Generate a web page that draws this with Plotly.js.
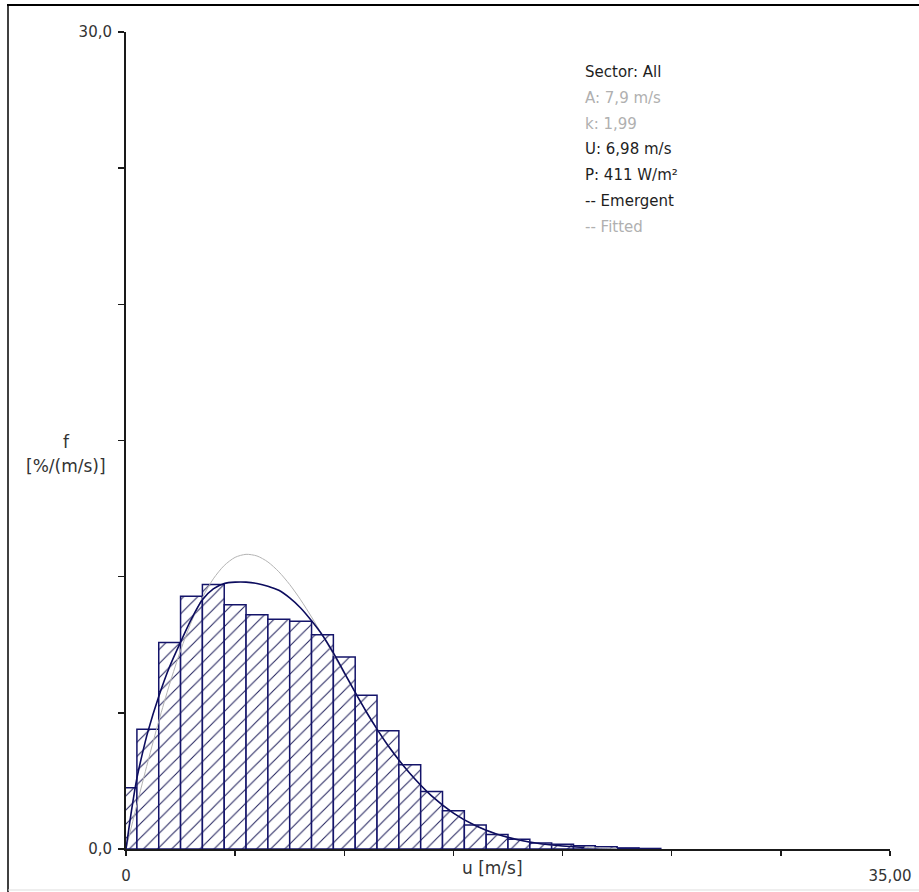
<!DOCTYPE html>
<html>
<head>
<meta charset="utf-8">
<script src="https://cdn.plot.ly/plotly-3.0.1.min.js"></script>
<style>
html,body{margin:0;padding:0;background:#ffffff;}
#chart{width:919px;height:892px;}
</style>
</head>
<body>
<div id="chart"></div>
<script>
// ---- data ----
const binCenters = [0,1,2,3,4,5,6,7,8,9,10,11,12,13,14,15,16,17,18,19,20,21,22,23,24];
const binValues  = [2.25,4.40,7.58,9.28,9.71,8.97,8.60,8.44,8.36,7.87,7.05,5.65,4.34,3.09,2.11,1.40,0.88,0.53,0.36,0.22,0.17,0.12,0.08,0.04,0.02];

const emergentU = [0,0.25,0.5,0.75,1,1.5,2,2.5,3,3.5,4,4.5,5,5.5,6,6.5,7,7.5,8,8.5,9,9.5,10,10.5,11,11.5,12,13,14,15,16,17,18,19,20,21];
const emergentF = [0,1.4,2.6,3.5,4.3,5.6,6.7,7.6,8.45,9.15,9.55,9.75,9.8,9.8,9.75,9.65,9.5,9.22,8.85,8.38,7.85,7.2,6.48,5.75,5.05,4.4,3.8,2.78,1.95,1.32,0.86,0.54,0.33,0.19,0.11,0.06];

const fittedU = [0,0.5,1,1.5,2,2.5,3,3.5,4,4.5,5,5.5,6,6.5,7,7.5,8,8.5,9,9.5,10,10.5,11,11.5,12,13,14,15,16,17,18,19,20,21,22,22.5];
const fittedF = [0,1.63,3.20,4.69,6.06,7.29,8.35,9.23,9.92,10.41,10.71,10.82,10.76,10.54,10.18,9.71,9.15,8.52,7.84,7.14,6.43,5.74,5.06,4.42,3.83,2.79,1.95,1.32,0.86,0.54,0.33,0.19,0.11,0.06,0.03,0.02];

const xTickVals = [0,5,10,15,20,25,30,35];
const xTickText = ['0','','','','','','','35,00'];
const yTickVals = [0,5,10,15,20,25,30];
const yTickText = ['0,0','','','','','','30,0'];

const legendLines = ['Sector: All','A: 7,9 m/s','k: 1,99','U: 6,98 m/s','P: 411 W/m²','-- Emergent','-- Fitted'];
const xTitleText = 'u [m/s]';
const yTitleLines = ['f','[%/(m/s)]'];

// ---- geometry / style ----
const W = 919, H = 892, ML = 126, MR = 29, MT = 32, MB = 43;
const PW = W - ML - MR, PH = H - MT - MB;
const px = p => (p - ML) / PW;
const py = p => (H - MB - p) / PH;
const FONT = 'DejaVu Sans';
const legendColors = ['#1e1e1e','#b0b0b0','#b0b0b0','#1e1e1e','#1e1e1e','#1e1e1e','#b0b0b0'];

const traces = [
  {
    type: 'bar', x: binCenters, y: binValues, width: 1,
    marker: {
      color: '#ffffff',
      line: {color: '#14146a', width: 1.5},
      pattern: {shape: '/', fgcolor: '#20205c', bgcolor: '#ffffff', size: 10, solidity: 0.1}
    },
    hoverinfo: 'skip'
  },
  {
    type: 'scatter', mode: 'lines', x: fittedU, y: fittedF,
    line: {color: '#b4b4b4', width: 1, shape: 'spline', smoothing: 0.8},
    hoverinfo: 'skip'
  },
  {
    type: 'scatter', mode: 'lines', x: emergentU, y: emergentF,
    line: {color: '#0c0c5e', width: 1.6, shape: 'spline', smoothing: 0.8},
    hoverinfo: 'skip'
  }
];

const annotations = [];
legendLines.forEach((t, i) => {
  annotations.push({
    xref: 'paper', yref: 'paper', x: px(583), y: py(72 + 25.8 * i),
    xanchor: 'left', yanchor: 'middle', showarrow: false, text: t,
    font: {family: FONT, size: 15, color: legendColors[i]}
  });
});
annotations.push({
  xref: 'paper', yref: 'paper', x: px(66), y: py(442), xanchor: 'center', yanchor: 'middle',
  showarrow: false, text: yTitleLines[0], font: {family: FONT, size: 17, color: '#333'}
});
annotations.push({
  xref: 'paper', yref: 'paper', x: px(66), y: py(466), xanchor: 'center', yanchor: 'middle',
  showarrow: false, text: yTitleLines[1], font: {family: FONT, size: 17, color: '#333'}
});
annotations.push({
  xref: 'paper', yref: 'paper', x: px(492), y: py(868), xanchor: 'center', yanchor: 'middle',
  showarrow: false, text: xTitleText, font: {family: FONT, size: 17, color: '#333'}
});

const shapes = [
  {type: 'line', xref: 'paper', yref: 'paper', x0: px(7), x1: px(919), y0: py(5), y1: py(5), line: {color: '#000', width: 2}},
  {type: 'line', xref: 'paper', yref: 'paper', x0: px(8), x1: px(8), y0: py(4), y1: py(892), line: {color: '#000', width: 1.5}},
  {type: 'line', xref: 'paper', yref: 'paper', x0: px(8), x1: px(919), y0: py(890), y1: py(890), line: {color: '#dddddd', width: 1}}
];

const axisCommon = {
  showgrid: false, zeroline: false, showline: true, linecolor: '#1a1a1a', linewidth: 2,
  ticks: 'outside', tickcolor: '#1a1a1a', tickwidth: 1.5,
  tickfont: {family: FONT, size: 15, color: '#333'}, fixedrange: true
};

const layout = {
  width: W, height: H,
  margin: {l: ML, r: MR, t: MT, b: MB, pad: 0},
  paper_bgcolor: '#ffffff', plot_bgcolor: '#ffffff',
  showlegend: false, bargap: 0,
  xaxis: Object.assign({}, axisCommon, {
    range: [0, 35], tickmode: 'array', tickvals: xTickVals, ticktext: xTickText, ticklen: 5, ticklabelstandoff: 7
  }),
  yaxis: Object.assign({}, axisCommon, {
    range: [0, 30], tickmode: 'array', tickvals: yTickVals, ticktext: yTickText, ticklen: 6, ticklabelstandoff: 3
  }),
  annotations: annotations,
  shapes: shapes
};

Plotly.newPlot('chart', traces, layout, {displayModeBar: false, staticPlot: true});
</script>
</body>
</html>
